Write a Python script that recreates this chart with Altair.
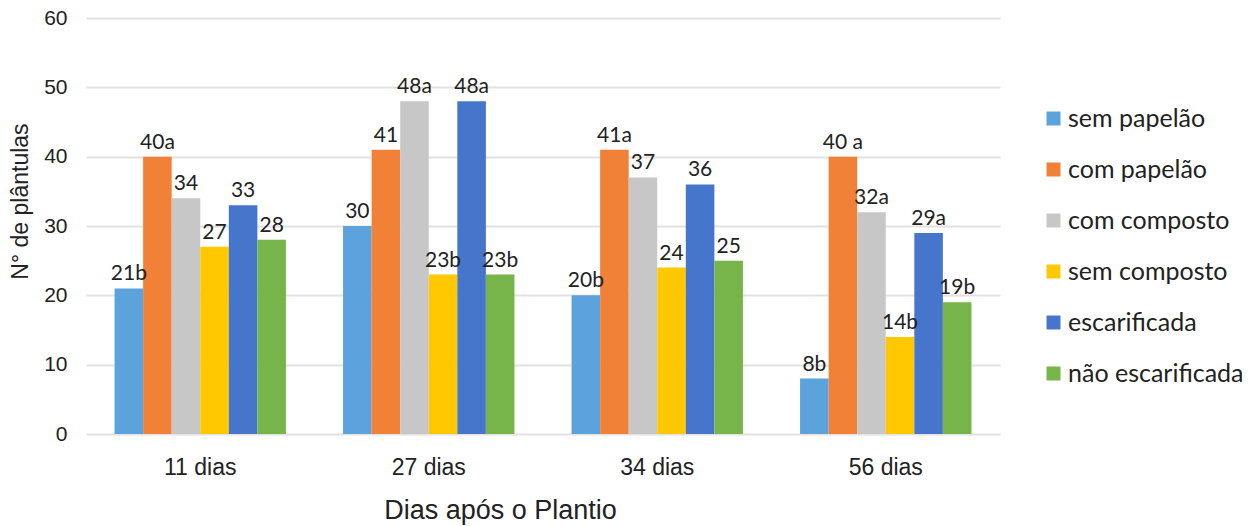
import altair as alt
import pandas as pd

dias = ["11 dias", "27 dias", "34 dias", "56 dias"]
series = ["sem papelão", "com papelão", "com composto", "sem composto",
          "escarificada", "não escarificada"]
colors = ["#5CA2DD", "#F08136", "#C7C7C7", "#FFC800", "#4676CC", "#77B54A"]

sem_papelao = [21, 30, 20, 8]
com_papelao = [40, 41, 41, 40]
com_composto = [34, 48, 37, 32]
sem_composto = [27, 23, 24, 14]
escarificada = [33, 48, 36, 29]
nao_escarificada = [28, 23, 25, 19]

rotulos_sem_papelao = ["21b", "30", "20b", "8b"]
rotulos_com_papelao = ["40a", "41", "41a", "40 a"]
rotulos_com_composto = ["34", "48a", "37", "32a"]
rotulos_sem_composto = ["27", "23b", "24", "14b"]
rotulos_escarificada = ["33", "48a", "36", "29a"]
rotulos_nao_escarificada = ["28", "23b", "25", "19b"]

valores = [sem_papelao, com_papelao, com_composto, sem_composto,
           escarificada, nao_escarificada]
rotulos = [rotulos_sem_papelao, rotulos_com_papelao, rotulos_com_composto,
           rotulos_sem_composto, rotulos_escarificada, rotulos_nao_escarificada]

rows = []
for s, vals, labs in zip(series, valores, rotulos):
    for d, v, l in zip(dias, vals, labs):
        rows.append({"dia": d, "tratamento": s, "n": v, "rotulo": l})
df = pd.DataFrame(rows)

AXIS_FONT = "Liberation Sans"
TEXT_COLOR = "#222222"

x = alt.X("dia:N", sort=dias,
          scale=alt.Scale(paddingInner=0, paddingOuter=0),
          axis=alt.Axis(title="Dias após o Plantio", labelAngle=0,
                        labelFont=AXIS_FONT, titleFont=AXIS_FONT,
                        labelFontSize=23, labelPadding=22, titleFontSize=27,
                        titlePadding=18, titleFontWeight="normal",
                        titleX=414, titleAlign="center",
                        labelColor=TEXT_COLOR, titleColor=TEXT_COLOR,
                        domain=False, ticks=False, grid=False))
xoff = alt.XOffset("tratamento:N", sort=series,
                   scale=alt.Scale(paddingInner=0, paddingOuter=1))
y = alt.Y("n:Q", scale=alt.Scale(domain=[0, 60]),
          axis=alt.Axis(title="N° de plântulas", values=[0, 10, 20, 30, 40, 50, 60],
                        labelFont=AXIS_FONT, titleFont=AXIS_FONT,
                        labelFontSize=21, labelPadding=19, titleFontSize=23,
                        titlePadding=11, titleFontWeight="normal",
                        titleY=183,
                        labelColor=TEXT_COLOR, titleColor=TEXT_COLOR,
                        domain=False, ticks=False, gridColor="#E2E2E2",
                        gridWidth=2))

bars = alt.Chart(df).mark_bar().encode(
    x=x, xOffset=xoff, y=y,
    color=alt.Color("tratamento:N", sort=series,
                    scale=alt.Scale(domain=series, range=colors),
                    legend=alt.Legend(title=None, orient="none", legendX=955,
                                      legendY=88, symbolType="square",
                                      symbolSize=196, symbolStrokeWidth=0,
                                      labelFontSize=25, labelFont="Lato",
                                      labelLimit=300,
                                      labelColor=TEXT_COLOR, labelOffset=2,
                                      rowPadding=25)),
)

labels = alt.Chart(df).mark_text(
    baseline="alphabetic", dy=-8, fontSize=21, font="Lato", color=TEXT_COLOR
).encode(x=x, xOffset=xoff, y=y, text="rotulo:N")

chart = alt.layer(bars, labels).properties(
    width=914, height=416,
    autosize=alt.AutoSizeParams(type="none"),
    padding={"left": 86, "top": 18, "right": 255, "bottom": 92},
).configure(font=AXIS_FONT).configure_view(stroke=None)

chart.save("out.html", embed_options={"renderer": "svg", "actions": False})
